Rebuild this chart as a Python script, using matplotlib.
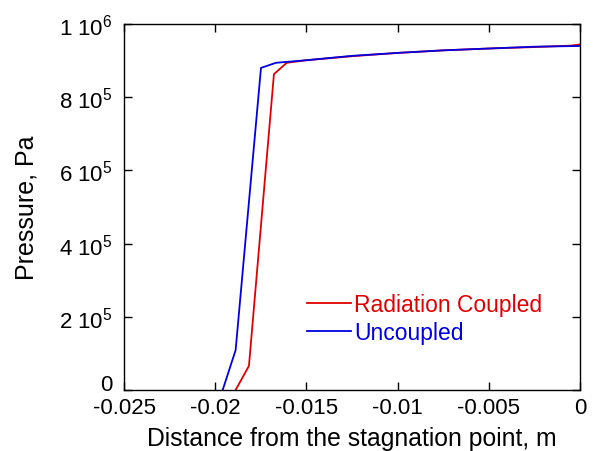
import matplotlib
matplotlib.use("Agg")
import matplotlib.pyplot as plt

plt.rcParams['font.family'] = ['Liberation Sans', 'DejaVu Sans']
plt.rcParams['mathtext.fontset'] = 'custom'
plt.rcParams['mathtext.rm'] = 'Liberation Sans'

# Data
coupled_x = [-0.01888, -0.01815, -0.01678, -0.01608, -0.015, -0.0125, -0.01, -0.0075, -0.005, -0.0025, -0.0005, 0.0]
coupled_y = [0.0, 0.066e6, 0.863e6, 0.894e6, 0.901e6, 0.912e6, 0.921e6, 0.928e6, 0.933e6, 0.937e6, 0.941e6, 0.944e6]
uncoupled_x = [-0.01959, -0.01888, -0.01749, -0.01667, -0.015, -0.0125, -0.01, -0.0075, -0.005, -0.0025, 0.0]
uncoupled_y = [0.0, 0.109e6, 0.880e6, 0.894e6, 0.901e6, 0.913e6, 0.921e6, 0.928e6, 0.933e6, 0.938e6, 0.940e6]

xticks = [-0.025, -0.02, -0.015, -0.01, -0.005, 0.0]
xticklabels = ['-0.025', '-0.02', '-0.015', '-0.01', '-0.005', '0']
yticks = [0, 2e5, 4e5, 6e5, 8e5, 1e6]
yticklabels = ['0', r'2 10$^{5}$', r'4 10$^{5}$', r'6 10$^{5}$', r'8 10$^{5}$', r'1 10$^{6}$']

fig = plt.figure(figsize=(5.97, 4.52), dpi=100)
ax = fig.add_axes([124/597, 1-391/452, (580-124)/597, (391-25)/452])

ax.plot(coupled_x, coupled_y, color='#e00000', lw=1.3, label='Radiation Coupled')
ax.plot(uncoupled_x, uncoupled_y, color='#0000e0', lw=1.3, label='Uncoupled')

ax.set_xlim(-0.025, 0)
ax.set_ylim(0, 1e6)
ax.set_xticks(xticks)
ax.set_xticklabels(xticklabels)
ax.set_yticks(yticks)
ax.set_yticklabels(yticklabels)
ax.tick_params(direction='in', length=6, width=1, labelsize=16, top=True, right=True)
ax.tick_params(axis='x', pad=5)
ax.tick_params(axis='y', pad=8)
ax.get_yticklabels()[0].set_va('baseline')
for s in ax.spines.values():
    s.set_linewidth(1)

ax.set_xlabel('Distance from the stagnation point, m', fontsize=17.8, labelpad=6)
ax.set_ylabel('Pressure, Pa', fontsize=18, labelpad=15)

leg = ax.legend(loc='lower left', bbox_to_anchor=(0.402, 0.125), frameon=False, fontsize=16.5,
                handlelength=1.9, handletextpad=0.15, labelspacing=0.25, borderpad=0, borderaxespad=0)
for t, c in zip(leg.get_texts(), ['#e00000', '#0000e0']):
    t.set_color(c)

fig.savefig('out.png', dpi=100)
